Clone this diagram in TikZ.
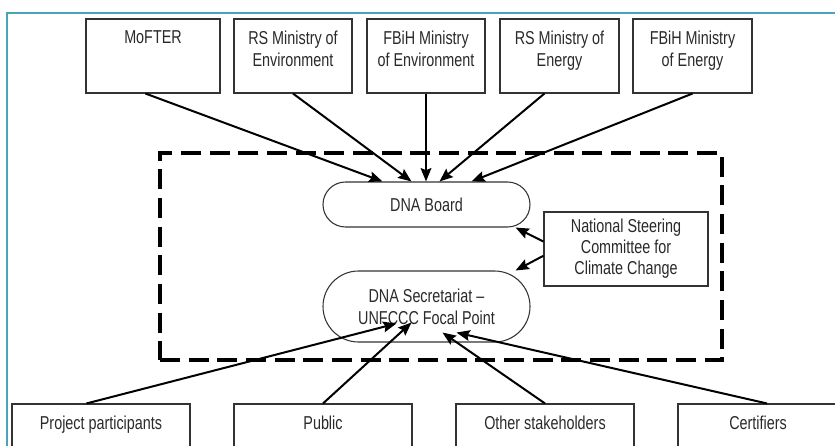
\documentclass[tikz,border=0pt]{standalone}
\usepackage{fontspec}
\setmainfont{Liberation Sans}[FakeStretch=0.77]
\usetikzlibrary{arrows.meta,calc}
\definecolor{framecol}{HTML}{4BA3BA}
\definecolor{txt}{HTML}{2A2A2A}
\begin{document}
\begin{tikzpicture}[x=0.75pt,y=-0.75pt,
  font=\fontsize{14}{16.5}\selectfont,
  sz/.style 2 args={minimum width=#1*0.75pt, minimum height=#2*0.75pt},
  box/.style={draw=black!80, line width=0.8pt, inner sep=0pt, fill=white},
  lbl/.style={anchor=north, inner sep=0pt, align=center, text=txt, yshift=-9pt},
  pill/.style={draw=black!80, line width=0.8pt, inner sep=0pt, fill=white, rounded corners=#1*0.75pt, align=center, text=txt},
  arr/.style={line width=1.5pt, -{Stealth[length=10pt,width=8pt,inset=1.5pt]}},
  dashbox/.style={draw=black, line width=2.3pt, dash pattern=on 15pt off 6.5pt, inner sep=0pt}]
\useasboundingbox (0,0) rectangle (835,446);
\fill[white] (0,0) rectangle (835,446);
\draw[framecol, line width=1.6pt] (7,470) -- (7,13) -- (850,13);

% dashed container
\node[dashbox, sz={562}{207}] (dna) at (441,256.5) {};

% top boxes
\node[box, sz={134}{74}] (mofter) at (153,56) {};
\node[lbl] (mofterT) at (mofter.north) {MoFTER};
\node[box, sz={118}{74}] (rsenv) at (293,56) {};
\node[lbl] (rsenvT) at (rsenv.north) {RS Ministry of\\Environment};
\node[box, sz={118}{74}] (fbihenv) at (426,56) {};
\node[lbl] (fbihenvT) at (fbihenv.north) {FBiH Ministry\\of Environment};
\node[box, sz={119}{74}] (rsen) at (559.5,56) {};
\node[lbl] (rsenT) at (rsen.north) {RS Ministry of\\Energy};
\node[box, sz={119}{74}] (fbihen) at (692.5,56) {};
\node[lbl] (fbihenT) at (fbihen.north) {FBiH Ministry\\of Energy};

% inner nodes
\node[pill=22.5, sz={207}{45}] (board) at (426.5,204.5) {DNA Board};
\node[pill=35.5, sz={207}{71}] (sec) at (426.5,306.5) {DNA Secretariat –\\UNFCCC Focal Point};
\node[box, sz={164}{74}, align=center, text=txt, font=\fontsize{14}{15.75}\selectfont] (nsc) at (626,249) {National Steering\\Committee for\\Climate Change};

% bottom boxes
\node[box, sz={178}{76}] (pp) at (101,442) {};
\node[lbl] (ppT) at (pp.north) {Project participants};
\node[box, sz={178}{76}] (pub) at (323,442) {};
\node[lbl] (pubT) at (pub.north) {Public};
\node[box, sz={178}{76}] (oth) at (545,442) {};
\node[lbl] (othT) at (oth.north) {Other stakeholders};
\node[box, sz={160}{76}] (cert) at (758,442) {};
\node[lbl] (certT) at (cert.north) {Certifiers};

% arrows from top
\draw[arr] ($(mofter.south west)+(60,0)$) -- ($(board.north west)+(60,0)$);
\draw[arr] (rsenv.south) -- ($(board.north west)+(89,0)$);
\draw[arr] (fbihenv.south) -- (fbihenv.south |- board.north);
\draw[arr] ($(rsen.south west)+(45,0)$) -- ($(board.north west)+(117,0)$);
\draw[arr] (fbihen.south) -- ($(board.north west)+(149,0)$);

% NSCCC arrows
\draw[arr] ($(nsc.north west)!0.4!(nsc.south west)$) -- ($(board.south east)+(-15,0)$);
\draw[arr] ($(nsc.north west)!0.59!(nsc.south west)$) -- ($(sec.north east)+(-15,0)$);

% arrows from bottom
\draw[arr] ($(pp.north west)+(75,0)$) -- ($(sec.south west)+(74,-19)$);
\draw[arr] (pub.north) -- ($(sec.south west)+(89,-20)$);
\draw[arr] (oth.north) -- ($(sec.south west)+(120,-10)$);
\draw[arr] ($(cert.north)+(9,0)$) -- ($(sec.south west)+(134,-10)$);
\end{tikzpicture}
\end{document}
